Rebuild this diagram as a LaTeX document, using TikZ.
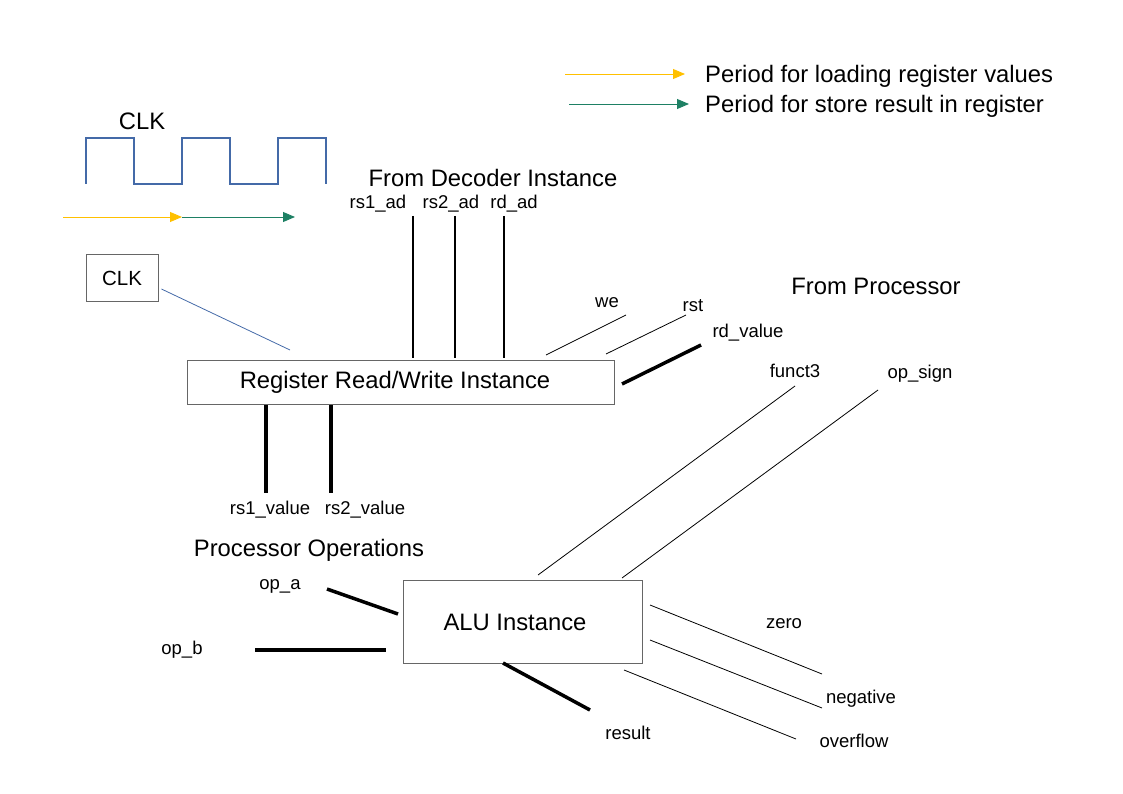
\documentclass[tikz,border=0pt]{standalone}
\usepackage{fontspec}
\setmainfont{Liberation Sans}
\usetikzlibrary{arrows.meta}

\definecolor{clkblue}{RGB}{68,106,168}
\definecolor{loadyellow}{RGB}{255,192,0}
\definecolor{storegreen}{RGB}{30,128,100}

\begin{document}
\begin{tikzpicture}[x=1pt,y=-1pt,
	big/.style={inner sep=0pt,yshift=-2pt,font=\fontsize{23.8}{28}\selectfont},
	small/.style={inner sep=0pt,yshift=-2pt,font=\fontsize{18.5}{22}\selectfont},
	block/.style={draw=black!60,line width=0.9pt,inner sep=0pt},
	wire/.style={line width=0.8pt},
	bus/.style={line width=3.5pt},
	period/.style={line width=0.9pt,-{Triangle[length=12pt,width=10pt]}},
	]
	\useasboundingbox (0,0) rectangle (1123,794);
	% legend
	\coordinate (ly1) at (565,74);
	\coordinate (ly2) at (685,74);
	\coordinate (lg1) at (569,104);
	\coordinate (lg2) at (689,104);
	\draw[period,loadyellow] (ly1) -- (ly2);
	\draw[period,storegreen] (lg1) -- (lg2);
	\node[big,anchor=west] (legload) at (705,74) {Period for loading register values};
	\node[big,anchor=west] (legstore) at (705,104) {Period for store result in register};
	% clock waveform
	\node[big] (clktitle) at (142,119) {CLK};
	\draw[clkblue,line width=1.8pt] (86,184) -- (86,138) -- (134,138) -- (134,184)
	-- (182,184) -- (182,138) -- (230,138) -- (230,184)
	-- (278,184) -- (278,138) -- (326,138) -- (326,184);
	\coordinate (p0) at (63,217);
	\coordinate (p1) at (182,217);
	\coordinate (p2) at (295,217);
	\draw[period,loadyellow] (p0) -- (p1);
	\draw[period,storegreen] (p1) -- (p2);
	% register block
	\node[block,minimum width=72pt,minimum height=47pt] (clkbox) at (122,278) {\fontsize{20.5}{24}\selectfont CLK};
	\node[block,minimum width=427pt,minimum height=44pt] (reg) at (400.5,382) {};
	\node[big] (reglabel) at (395,380) {Register Read/Write Instance};
	\coordinate (clkend) at (290,350);
	\draw[clkblue,line width=0.8pt] (clkbox.east |- 0,289) ++(3,0) coordinate (clkstart) -- (clkend);
	\node[big] (decoder) at (493,176) {From Decoder Instance};
	\node[small] (rs1ad) at (378,202) {rs1\_ad};
	\node[small] (rs2ad) at (451,202) {rs2\_ad};
	\node[small] (rdad) at (514,202) {rd\_ad};
	\foreach \name/\x in {rs1/413,rs2/455,rd/504}{
		\coordinate (\name top) at (\x,216);
		\coordinate (\name bot) at (\x,358);
		\draw[line width=1.8pt] (\name top) -- (\name bot);
	}
	\node[small] (we) at (607,301) {we};
	\node[small] (rst) at (693,304) {rst};
	\node[small] (rdvalue) at (748,331) {rd\_value};
	\node[big] (processor) at (876,284) {From Processor};
	\coordinate (we1) at (546,355);
	\coordinate (we2) at (626,315);
	\coordinate (rst1) at (606,354);
	\coordinate (rst2) at (686,315);
	\coordinate (rdv1) at (622,384);
	\coordinate (rdv2) at (701,345);
	\draw[wire] (we1) -- (we2);
	\draw[wire] (rst1) -- (rst2);
	\draw[bus] (rdv1) -- (rdv2);
	% register outputs
	\coordinate (rs1v1) at (266,405);
	\coordinate (rs1v2) at (266,493);
	\coordinate (rs2v1) at (331,405);
	\coordinate (rs2v2) at (331,493);
	\draw[bus] (rs1v1) -- (rs1v2);
	\draw[bus] (rs2v1) -- (rs2v2);
	\node[small] (rs1value) at (270,508) {rs1\_value};
	\node[small] (rs2value) at (365,508) {rs2\_value};
	% ALU block
	\node[big] (operations) at (309,548) {Processor Operations};
	\node[block,minimum width=239pt,minimum height=83pt] (alu) at (522.5,621.5) {};
	\node[big] (alulabel) at (515,620) {ALU Instance};
	\node[small] (funct3) at (795,369) {funct3};
	\node[small] (opsign) at (920,372) {op\_sign};
	\coordinate (f1) at (538,575);
	\coordinate (f2) at (795,386);
	\coordinate (s1) at (622,578);
	\coordinate (s2) at (878,390);
	\draw[wire] (f1) -- (f2);
	\draw[wire] (s1) -- (s2);
	\node[small] (opa) at (280,584) {op\_a};
	\node[small] (opb) at (182,648) {op\_b};
	\coordinate (a1) at (327,589);
	\coordinate (a2) at (398,614);
	\coordinate (b1) at (255,650);
	\coordinate (b2) at (386,650);
	\draw[bus] (a1) -- (a2);
	\draw[bus] (b1) -- (b2);
	% ALU outputs
	\node[small] (zero) at (784,622) {zero};
	\node[small] (negative) at (861,697) {negative};
	\node[small] (overflow) at (854,739) {overflow};
	\node[small] (result) at (628,731) {result};
	\coordinate (z1) at (650,605);
	\coordinate (z2) at (822,674);
	\coordinate (n1) at (650,640);
	\coordinate (n2) at (822,708);
	\coordinate (o1) at (624,670);
	\coordinate (o2) at (796,739);
	\coordinate (r1) at (503,663);
	\coordinate (r2) at (590,710);
	\draw[wire] (z1) -- (z2);
	\draw[wire] (n1) -- (n2);
	\draw[wire] (o1) -- (o2);
	\draw[bus] (r1) -- (r2);
\end{tikzpicture}
\end{document}
